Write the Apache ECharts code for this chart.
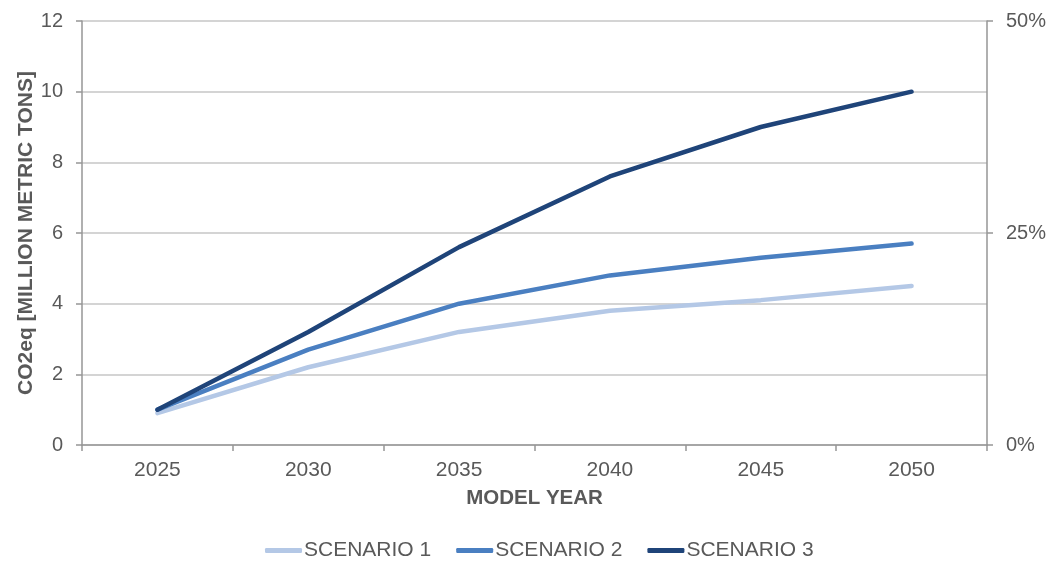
<!DOCTYPE html>
<html>
<head>
<meta charset="utf-8">
<script src="https://cdn.jsdelivr.net/npm/echarts@6/dist/echarts.min.js"></script>
<style>
  html, body { margin: 0; padding: 0; background: #ffffff; }
  #chart { width: 1060px; height: 561px; }
</style>
</head>
<body>
<div id="chart"></div>
<script>
// Model years on the horizontal axis
const years = ['2025', '2030', '2035', '2040', '2045', '2050'];

// CO2eq reductions in million metric tons per scenario
const scenario1 = [0.9, 2.2, 3.2, 3.8, 4.1, 4.5];
const scenario2 = [1.0, 2.7, 4.0, 4.8, 5.3, 5.7];
const scenario3 = [1.0, 3.2, 5.6, 7.6, 9.0, 10.0];

const seriesNames = ['SCENARIO 1', 'SCENARIO 2', 'SCENARIO 3'];
const seriesColors = ['#b4c8e6', '#4a7fc1', '#1f4479'];

const textColor = '#595959';
const axisGray = '#969696';
const fontFamily = '"Liberation Sans", Arial, sans-serif';

const chart = echarts.init(document.getElementById('chart'), null, { renderer: 'canvas' });

const makeLine = (name, data, color) => ({
  name: name,
  type: 'line',
  data: data,
  yAxisIndex: 0,
  symbol: 'none',
  smooth: false,
  lineStyle: { width: 4.5, color: color, cap: 'round', join: 'round' },
  itemStyle: { color: color }
});

chart.setOption({
  animation: false,
  textStyle: { fontFamily: fontFamily },
  grid: { left: 82, right: 73, top: 21, bottom: 116, containLabel: false },
  legend: {
    top: 540,
    left: 265,
    padding: 0,
    itemWidth: 37,
    itemHeight: 5,
    itemGap: 25,
    icon: 'roundRect',
    textStyle: { color: textColor, fontSize: 21, fontFamily: fontFamily, padding: [0, 0, 0, -3] },
    data: seriesNames
  },
  xAxis: {
    type: 'category',
    data: years,
    boundaryGap: true,
    name: 'MODEL YEAR',
    nameLocation: 'middle',
    nameGap: 43,
    nameMoveOverlap: false,
    nameTextStyle: { color: textColor, fontSize: 20.5, fontWeight: 'bold', fontFamily: fontFamily },
    axisLine: { lineStyle: { color: axisGray, width: 1.5 } },
    axisTick: { show: true, alignWithLabel: false, length: 6, lineStyle: { color: axisGray, width: 1.5 } },
    axisLabel: { color: textColor, fontSize: 21, margin: 15 },
    splitLine: { show: false }
  },
  yAxis: [
    {
      type: 'value',
      min: 0,
      max: 12,
      interval: 2,
      name: 'CO2eq [MILLION METRIC TONS]',
      nameLocation: 'middle',
      nameGap: 45,
      nameMoveOverlap: false,
      nameTextStyle: { color: textColor, fontSize: 21, fontWeight: 'bold', fontFamily: fontFamily },
      axisLine: { show: true, lineStyle: { color: axisGray, width: 1.5 } },
      axisTick: { show: true, length: 6, lineStyle: { color: axisGray, width: 1.5 } },
      axisLabel: { color: textColor, fontSize: 20, margin: 19 },
      splitLine: { show: true, lineStyle: { color: '#c6c6c6', width: 1.5 } }
    },
    {
      type: 'value',
      position: 'right',
      min: 0,
      max: 50,
      interval: 25,
      axisLine: { show: true, lineStyle: { color: axisGray, width: 1.5 } },
      axisTick: { show: true, length: 6, lineStyle: { color: axisGray, width: 1.5 } },
      axisLabel: { color: textColor, fontSize: 20, margin: 19, formatter: '{value}%' },
      splitLine: { show: false }
    }
  ],
  series: [
    makeLine(seriesNames[0], scenario1, seriesColors[0]),
    makeLine(seriesNames[1], scenario2, seriesColors[1]),
    makeLine(seriesNames[2], scenario3, seriesColors[2])
  ]
});
</script>
</body>
</html>
